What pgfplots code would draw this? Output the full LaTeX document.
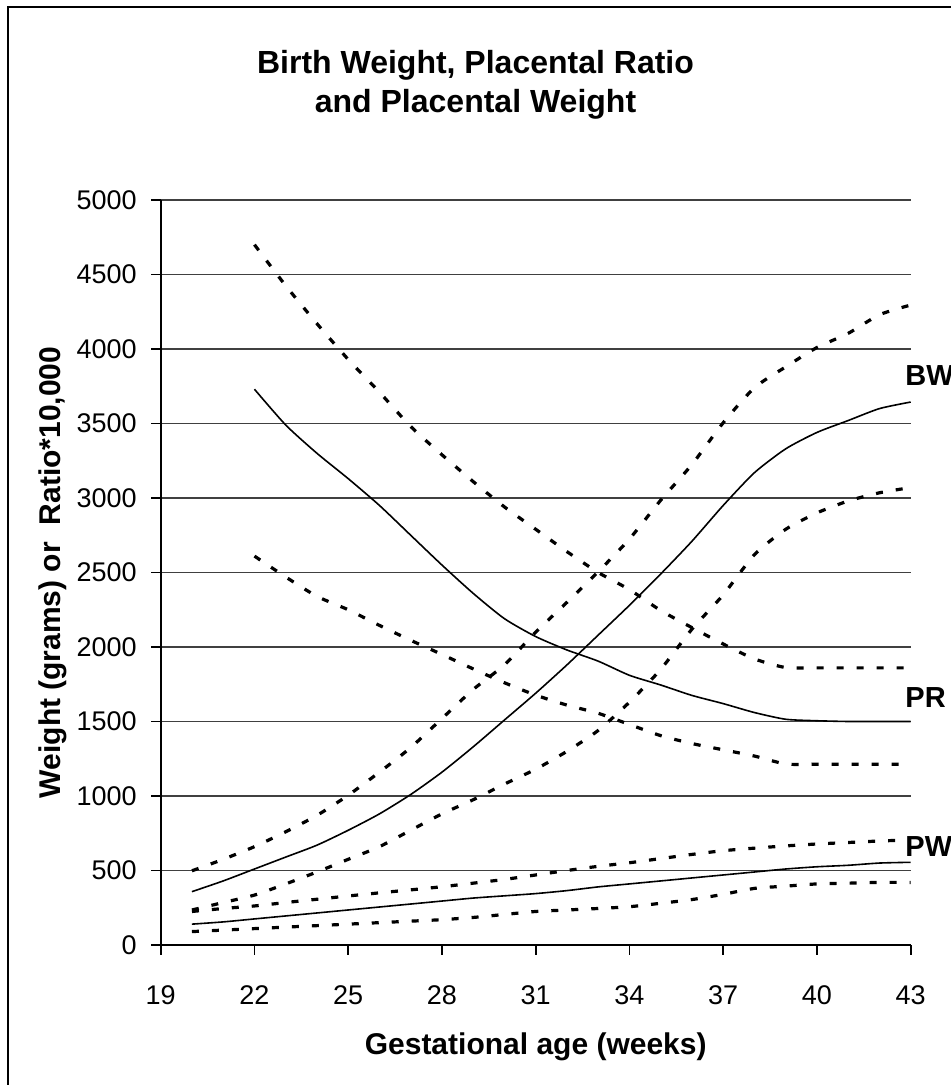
\documentclass[border=0pt]{standalone}
\usepackage{pgfplots}
\pgfplotsset{compat=1.18}
\usepackage{pgfplotstable}
\usepackage{fontspec}
\setmainfont{Liberation Sans}

% Birth weight (BW) and placental weight (PW): median, upper and lower curves
\pgfplotstableread{
w   bwm   bwu   bwl   pwm  pwu  pwl
20  358   498   235   140  225  90
21  430   575   285   155  245  100
22  510   660   335   175  262  110
23  590   760   410   195  285  120
24  670   870   490   215  307  130
25  770   1005  575   235  329  140
26  880   1160  660   255  350  150
27  1010  1325  770   275  370  160
28  1160  1520  880   295  391  170
29  1330  1715  975   315  415  185
30  1510  1880  1080  330  440  205
31  1690  2100  1180  345  470  225
32  1880  2300  1300  365  500  235
33  2080  2505  1440  390  528  245
34  2280  2725  1630  410  552  257
35  2490  2985  1850  430  580  280
36  2710  3225  2120  450  608  305
37  2950  3505  2350  470  633  340
38  3170  3740  2620  490  650  380
39  3330  3880  2790  510  665  395
40  3440  4010  2900  525  678  410
41  3520  4105  2980  535  688  415
42  3600  4230  3035  550  698  420
43  3644  4295  3070  555  705  420
}\weights

% Placental ratio x 10,000 (PR): median, upper and lower curves
\pgfplotstableread{
w   prm   pru   prl
22  3730  4700  2610
23  3490  4425  2470
24  3300  4170  2340
25  3130  3930  2250
26  2950  3710  2145
27  2750  3480  2045
28  2550  3290  1950
29  2360  3110  1853
30  2190  2940  1760
31  2070  2790  1677
32  1980  2640  1610
33  1905  2500  1555
34  1810  2385  1480
35  1745  2245  1405
36  1675  2130  1352
37  1620  2020  1310
38  1560  1920  1268
39  1515  1862  1215
40  1505  1860  1213
41  1500  1860  1213
42  1500  1860  1213
43  1500  1860  1213
}\ratio

\tikzset{
  med/.style={black, line width=0.8pt, smooth, tension=0.4},
  band/.style={black, line width=1.6pt, dash pattern=on 3.5pt off 6.5pt, smooth, tension=0.4},
  curvename/.style={anchor=west, inner sep=0pt, font=\bfseries\fontsize{14.5}{17}\selectfont},
}

\begin{document}
\begin{tikzpicture}
\useasboundingbox (0,0) rectangle (475.5pt,542.5pt);
% chart area border (left and top edges)
\draw[line width=1pt] (4pt,0) -- (4pt,539pt) -- (475.5pt,539pt);
% title
\node[font=\bfseries\fontsize{16}{19}\selectfont, anchor=base, inner sep=0pt]
  at (237.75pt,505.5pt) {Birth Weight, Placental Ratio};
\node[font=\bfseries\fontsize{16}{19}\selectfont, anchor=base, inner sep=0pt]
  at (237.75pt,486pt) {and Placental Weight};

\begin{axis}[
  at={(80.35pt,70pt)}, anchor=south west,
  width=375pt, height=372.5pt, scale only axis,
  xmin=19, xmax=43, ymin=0, ymax=5000,
  xtick={19,22,...,43}, ytick={0,500,...,5000},
  axis x line*=bottom, axis y line*=left,
  axis line style={-, black, line width=0.9pt},
  tick align=outside, major tick length=4.75pt,
  tick style={black, line width=0.8pt},
  ymajorgrids, major grid style={black!75, line width=0.7pt},
  /pgf/number format/assume math mode=true,
  /pgf/number format/1000 sep={},
  ticklabel style={font=\fontsize{13.5}{16}\selectfont, inner sep=0pt},
  yticklabel style={anchor=east},
  xticklabel style={anchor=north},
  yticklabel shift=7.1pt,
  xticklabel shift=15.4pt,
  xlabel={Gestational age (weeks)},
  ylabel={Weight (grams) or\ \ Ratio*10,000},
  label style={font=\bfseries\fontsize{15}{18}\selectfont},
  xlabel style={at={(axis description cs:0.5,-0.137)}, anchor=center},
  ylabel style={at={(axis description cs:-0.1436,0.5)}, anchor=center},
  clip=false,
]
\addplot[med]  table[x=w, y=bwm] {\weights};
\addplot[band] table[x=w, y=bwu] {\weights};
\addplot[band] table[x=w, y=bwl] {\weights};
\addplot[med]  table[x=w, y=prm] {\ratio};
\addplot[band] table[x=w, y=pru] {\ratio};
\addplot[band] table[x=w, y=prl] {\ratio};
\addplot[med]  table[x=w, y=pwm] {\weights};
\addplot[band] table[x=w, y=pwu] {\weights};
\addplot[band] table[x=w, y=pwl] {\weights};

\node[curvename] at (axis cs:42.82,3822) {BW};
\node[curvename] at (axis cs:42.82,1661) {PR};
\node[curvename] at (axis cs:42.82,664) {PW};
\end{axis}
\end{tikzpicture}
\end{document}
